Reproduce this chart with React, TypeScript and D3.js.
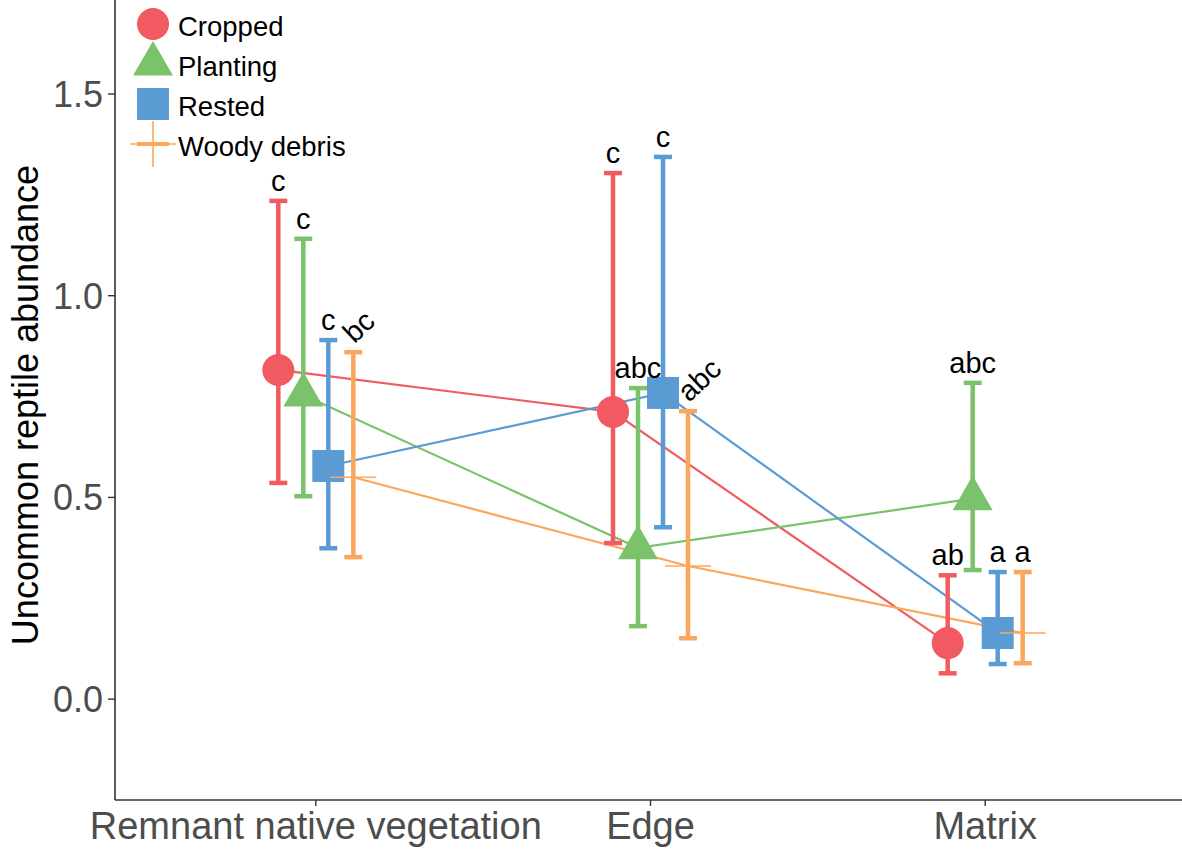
import React from "react";
import * as d3 from "d3";

const categories = ["Remnant native vegetation", "Edge", "Matrix"];
const seriesNames = ["Cropped", "Planting", "Rested", "Woody debris"];
const seriesColors = ["#F15A60", "#7AC36A", "#5A9BD4", "#FAA75B"];
const seriesShapes = ["circle", "triangle", "square", "plus"];

const croppedMean = [0.816, 0.712, 0.139];
const croppedLow = [0.536, 0.387, 0.064];
const croppedHigh = [1.235, 1.304, 0.307];
const croppedLetters = ["c", "c", "ab"];

const plantingMean = [0.754, 0.375, 0.497];
const plantingLow = [0.503, 0.181, 0.32];
const plantingHigh = [1.141, 0.771, 0.784];
const plantingLetters = ["c", "abc", "abc"];

const restedMean = [0.578, 0.759, 0.164];
const restedLow = [0.374, 0.426, 0.087];
const restedHigh = [0.89, 1.344, 0.315];
const restedLetters = ["c", "c", "a"];

const woodyMean = [0.55, 0.33, 0.164];
const woodyLow = [0.352, 0.151, 0.089];
const woodyHigh = [0.86, 0.714, 0.315];
const woodyLetters = ["bc", "abc", "a"];
const woodyLettersTilted = [true, true, false];

const yTicks = [0.0, 0.5, 1.0, 1.5];
const yDomain = [-0.25, 1.733];
const yTitle = "Uncommon reptile abundance";

const series = [
  { mean: croppedMean, low: croppedLow, high: croppedHigh, letters: croppedLetters, tilted: [false, false, false] },
  { mean: plantingMean, low: plantingLow, high: plantingHigh, letters: plantingLetters, tilted: [false, false, false] },
  { mean: restedMean, low: restedLow, high: restedHigh, letters: restedLetters, tilted: [false, false, false] },
  { mean: woodyMean, low: woodyLow, high: woodyHigh, letters: woodyLetters, tilted: woodyLettersTilted },
];

const W = 1182;
const H = 852;
const axisX = 115;
const axisY = 800;
const FONT = "'Liberation Sans', Arial, Helvetica, sans-serif";

function Marker({ shape, cx, cy, color }: { shape: string; cx: number; cy: number; color: string }) {
  if (shape === "circle") return <circle cx={cx} cy={cy} r={16} fill={color} />;
  if (shape === "square") return <rect x={cx - 16} y={cy - 16} width={32} height={32} fill={color} />;
  if (shape === "triangle") {
    const r = 14.8;
    const p = d3.path();
    p.moveTo(cx, cy - r * 1.5551);
    p.lineTo(cx + r * 1.3468, cy + r * 0.7776);
    p.lineTo(cx - r * 1.3468, cy + r * 0.7776);
    p.closePath();
    return <path d={p.toString()} fill={color} />;
  }
  return (
    <g stroke={color} strokeWidth={1.6}>
      <line x1={cx - 23} x2={cx + 23} y1={cy} y2={cy} />
      <line x1={cx} x2={cx} y1={cy - 23} y2={cy + 23} />
    </g>
  );
}

export default function App() {
  const xBase = d3.scalePoint<string>().domain(categories).range([axisX, 1186]).padding(0.6);
  const y = d3.scaleLinear().domain(yDomain).range([axisY, 0]);
  const dodge = (s: number) => (s - 1.5) * 25;
  const xs = (ci: number, s: number) => (xBase(categories[ci]) as number) + dodge(s);

  const line = d3
    .line<[number, number]>()
    .x((d) => d[0])
    .y((d) => d[1]);

  return (
    <svg width={W} height={H} style={{ position: "absolute", left: 0, top: 0, background: "#fff" }} fontFamily={FONT}>
      <rect x={0} y={0} width={W} height={H} fill="#fff" />
      {/* connecting lines */}
      {series.map((s, si) => (
        <path
          key={"l" + si}
          d={line(s.mean.map((v, ci) => [xs(ci, si), y(v)] as [number, number])) || ""}
          fill="none"
          stroke={seriesColors[si]}
          strokeWidth={2.2}
        />
      ))}
      {/* error bars */}
      {series.map((s, si) =>
        s.mean.map((_, ci) => {
          const x = xs(ci, si);
          return (
            <g key={"e" + si + ci} stroke={seriesColors[si]} strokeWidth={4.5}>
              <line x1={x} x2={x} y1={y(s.low[ci])} y2={y(s.high[ci])} />
              <line x1={x - 9} x2={x + 9} y1={y(s.low[ci])} y2={y(s.low[ci])} />
              <line x1={x - 9} x2={x + 9} y1={y(s.high[ci])} y2={y(s.high[ci])} />
            </g>
          );
        })
      )}
      {/* points */}
      {series.map((s, si) =>
        s.mean.map((v, ci) => (
          <Marker key={"p" + si + ci} shape={seriesShapes[si]} cx={xs(ci, si)} cy={y(v)} color={seriesColors[si]} />
        ))
      )}
      {/* letters */}
      {series.map((s, si) =>
        s.letters.map((t, ci) => {
          const x = xs(ci, si);
          const top = y(s.high[ci]);
          if (s.tilted[ci]) {
            return (
              <text
                key={"t" + si + ci}
                transform={`translate(${x + 1},${top - 8}) rotate(-43)`}
                fontSize={29}
                fill="#000"
              >
                {t}
              </text>
            );
          }
          return (
            <text key={"t" + si + ci} x={x} y={top - 10} textAnchor="middle" fontSize={29} fill="#000">
              {t}
            </text>
          );
        })
      )}
      {/* axes */}
      <line x1={axisX} x2={axisX} y1={0} y2={axisY} stroke="#333" strokeWidth={1.6} />
      <line x1={axisX} x2={W} y1={axisY} y2={axisY} stroke="#333" strokeWidth={1.6} />
      {yTicks.map((t) => (
        <g key={"yt" + t}>
          <line x1={axisX - 7} x2={axisX} y1={y(t)} y2={y(t)} stroke="#333" strokeWidth={1.4} />
          <text x={103} y={y(t) + 13} textAnchor="end" fontSize={36} fill="#4D4D4D">
            {d3.format(".1f")(t)}
          </text>
        </g>
      ))}
      {categories.map((c) => (
        <g key={"xt" + c}>
          <line x1={xBase(c) as number} x2={xBase(c) as number} y1={axisY} y2={axisY + 6} stroke="#333" strokeWidth={1.4} />
          <text x={xBase(c) as number} y={839} textAnchor="middle" fontSize={38} fill="#4D4D4D">
            {c}
          </text>
        </g>
      ))}
      <text transform={`translate(38,405) rotate(-90)`} textAnchor="middle" fontSize={36} fill="#000">
        {yTitle}
      </text>
      {/* legend */}
      {seriesNames.map((n, si) => {
        const cy = 24 + si * 40;
        return (
          <g key={"lg" + si}>
            {seriesShapes[si] === "plus" && (
              <line x1={137} x2={169} y1={cy} y2={cy} stroke={seriesColors[si]} strokeWidth={4} />
            )}
            <Marker shape={seriesShapes[si]} cx={153} cy={cy} color={seriesColors[si]} />
            <text x={178} y={cy + 12} fontSize={27.5} fill="#000">
              {n}
            </text>
          </g>
        );
      })}
    </svg>
  );
}
